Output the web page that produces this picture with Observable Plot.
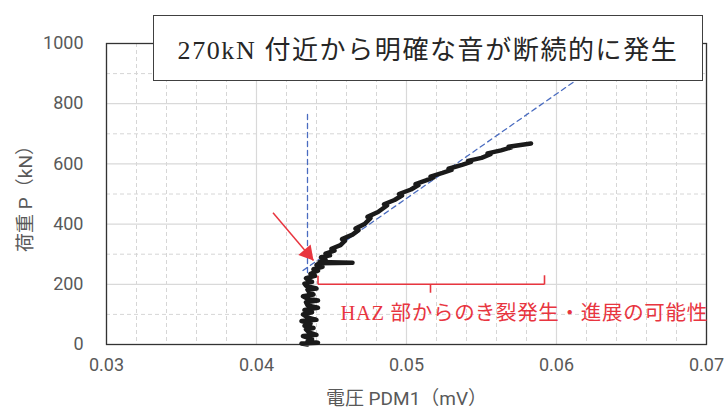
<!DOCTYPE html>
<html><head><meta charset="utf-8">
<script src="https://cdn.jsdelivr.net/npm/d3@7"></script>
<script src="https://cdn.jsdelivr.net/npm/@observablehq/plot@0.6"></script>
<style>
body{margin:0;background:#fff}
#wrap{position:relative;width:724px;height:410px}
#title{position:absolute;left:153px;top:15px;width:550px;height:66px;box-sizing:border-box;border:1px solid #404040;background:#fff;display:flex;align-items:center;justify-content:center;font-family:"Liberation Serif","Noto Sans CJK JP";font-size:26px;letter-spacing:1.6px;color:#262626;padding-bottom:2px}
</style></head>
<body>
<div id="wrap"><div id="chart"></div><div id="title"></div></div>
<script>
// ---- data ----
const titleText = "270kN 付近から明確な音が断続的に発生";
const xLabel = "電圧 PDM1（mV）";
const yLabel = "荷重 P（kN）";
const noteText = "HAZ 部からのき裂発生・進展の可能性";
const xTicks = [0.03, 0.04, 0.05, 0.06, 0.07];
const yTicks = [0, 200, 400, 600, 800, 1000];

// measured curve: PDM1 voltage (mV) and load (kN)
const voltage = [
  0.0434,0.0430,0.0441,0.0434,0.0437,0.0431,0.0440,0.0435,0.0433,0.0438,
  0.0432,0.0436,0.0430,0.0440,0.0434,0.0431,0.0437,0.0432,0.0441,0.0434,
  0.0433,0.0441,0.0434,0.0431,0.0438,0.0435,0.0434,0.0440,0.0433,0.0432,
  0.0437,0.0434,0.0433,0.0439,0.0436,0.0441,0.0438,0.0444,0.0440,0.0442,
  0.0464,0.0442,0.0446,0.0443,0.0449,0.0446,0.0452,0.0450,0.0456,0.0459,
  0.0457,0.0464,0.0468,0.0466,0.0472,0.0476,0.0474,0.0481,0.0487,0.0485,
  0.0492,0.0497,0.0495,0.0503,0.0508,0.0506,0.0513,0.0518,0.0516,0.0524,
  0.0530,0.0528,0.0537,0.0543,0.0541,0.0550,0.0556,0.0554,0.0563,0.0570,
  0.0568,0.0576,0.0583
];
const load = [
  0,3,6,10,18,28,32,40,50,55,
  62,70,78,82,90,100,107,115,122,130,
  140,146,152,160,166,175,182,186,195,202,
  208,215,220,228,235,245,250,258,264,270,
  272,274,282,290,296,302,312,318,330,345,
  350,365,380,385,400,420,424,440,462,466,
  480,495,500,515,530,533,545,555,558,570,
  580,584,597,607,610,620,632,635,645,655,
  657,663,668
];

// guide lines (blue dashed)
const vGuideX = [0.0434, 0.0434];
const vGuideP = [0, 770];
const diagGuideX = [0.0431, 0.0650];
const diagGuideP = [246, 1006];

// red arrow (from, to)
const arrowX = [0.0411, 0.0438];
const arrowP = [438, 279];

// red bracket segments [x1, p1, x2, p2]
const bracket = [
  [0.0441, 228, 0.0441, 200],
  [0.0441, 200, 0.0592, 200],
  [0.0516, 200, 0.0516, 172],
  [0.0592, 200, 0.0592, 230]
];
const noteX = 0.0456, noteP = 103;

// ---- chart ----
const W = 724, H = 410, ML = 106, MR = 18, MT = 43, MB = 66;
const gray = "#595959", red = "#e8353f", blue = "#4a6cc0";
const curve = voltage.map((v, i) => ({v, p: load[i]}));
const minorX = d3.range(0, 21).map(i => 0.03 + i * 0.002).filter((d, i) => i % 5 !== 0);
const minorY = d3.range(100, 1000, 200);

// arrow head placement (in pixels -> data)
const kx = (W - ML - MR) / 0.04, ky = (H - MT - MB) / 1000;
const dxp = (arrowX[1] - arrowX[0]) * kx, dyp = (arrowP[0] - arrowP[1]) * ky;
const len = Math.hypot(dxp, dyp);
const headR = 6;
const back = headR * 2.693 * Math.sqrt(3) / 2 * 2 / 3;
const headX = arrowX[1] - dxp / len * back / kx;
const headP = arrowP[1] + dyp / len * back / ky;
const headRot = Math.atan2(dxp, -dyp) * 180 / Math.PI;

const chart = Plot.plot({
  width: W, height: H,
  marginLeft: ML, marginRight: MR, marginTop: MT, marginBottom: MB,
  style: {fontFamily: "Roboto, 'Noto Sans CJK JP', sans-serif", background: "#fff", overflow: "visible"},
  x: {domain: [0.03, 0.07]},
  y: {domain: [0, 1000]},
  marks: [
    Plot.gridX(minorX, {stroke: "#d6d6d6", strokeOpacity: 1, strokeDasharray: "4,3"}),
    Plot.gridY(minorY, {stroke: "#d6d6d6", strokeOpacity: 1, strokeDasharray: "4,3"}),
    Plot.gridX(xTicks, {stroke: "#d9d9d9", strokeOpacity: 1, strokeWidth: 1.2}),
    Plot.gridY(yTicks, {stroke: "#d9d9d9", strokeOpacity: 1, strokeWidth: 1.2}),
    Plot.frame({stroke: "#333", strokeWidth: 1.3}),
    Plot.axisX(xTicks, {tickSize: 0, tickPadding: 14, fontSize: 18, color: gray, label: null, tickFormat: d3.format(".2f")}),
    Plot.axisY(yTicks, {tickSize: 0, tickPadding: 23, fontSize: 18, color: gray, label: null, tickFormat: d => String(d)}),
    Plot.line(vGuideX.map((x, i) => ({x, p: vGuideP[i]})), {x: "x", y: "p", stroke: blue, strokeWidth: 1.3, strokeDasharray: "5,4"}),
    Plot.line(diagGuideX.map((x, i) => ({x, p: diagGuideP[i]})), {x: "x", y: "p", stroke: blue, strokeWidth: 1.3, strokeDasharray: "5,4", clip: true}),
    Plot.line(curve, {x: "v", y: "p", stroke: "#1a1a1a", strokeWidth: 4.5, strokeLinejoin: "round", strokeLinecap: "round"}),
    Plot.link(bracket, {x1: d => d[0], y1: d => d[1], x2: d => d[2], y2: d => d[3], stroke: red, strokeWidth: 1.6}),
    Plot.link([0], {x1: () => arrowX[0], y1: () => arrowP[0], x2: () => arrowX[1], y2: () => arrowP[1], stroke: red, strokeWidth: 1.5}),
    Plot.dot([0], {x: () => headX, y: () => headP, r: headR, symbol: "triangle", fill: red, stroke: "none", rotate: headRot}),
    Plot.text([noteText], {x: () => noteX, y: () => noteP, text: d => d, textAnchor: "start", fill: red, fontSize: 20.5, fontFamily: "'Liberation Serif','Noto Sans CJK JP'", render: (index, scales, values, dims, ctx, next) => { const g = next(index, scales, values, dims, ctx); g.setAttribute("letter-spacing", "0.7px"); return g; }}),
    Plot.text([yLabel], {frameAnchor: "left", dx: -81, dy: 0, rotate: -90, text: d => d, fill: gray, fontSize: 19, textAnchor: "middle"}),
    Plot.text([xLabel], {frameAnchor: "bottom", dy: 54, text: d => d, fill: gray, fontSize: 19, textAnchor: "middle", lineAnchor: "middle"})
  ]
});
document.getElementById("chart").appendChild(chart);
document.getElementById("title").textContent = titleText;
</script>
</body></html>
